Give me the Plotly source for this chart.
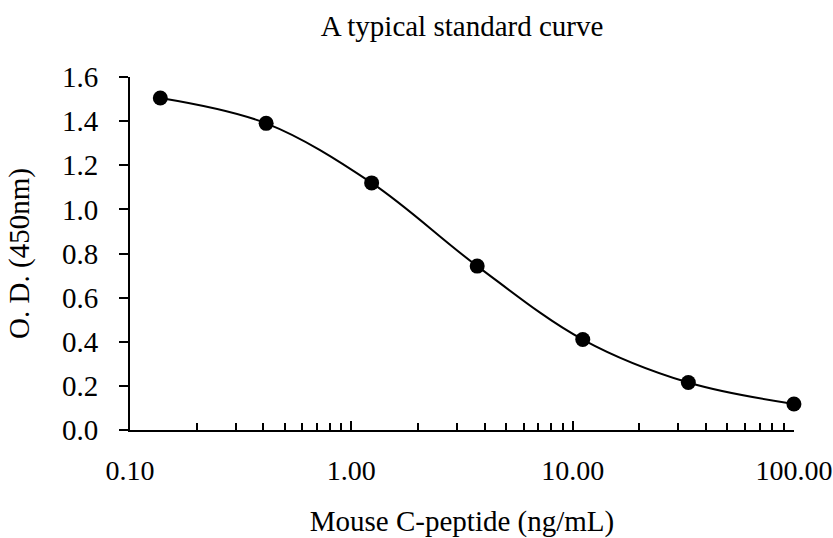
import plotly.graph_objects as go

concentration = [0.137, 0.412, 1.235, 3.704, 11.11, 33.33, 100.0]
od_450 = [1.505, 1.39, 1.12, 0.743, 0.41, 0.215, 0.118]

x_tickvals = [0.1, 1, 10, 100]
x_ticktext = ["0.10", "1.00", "10.00", "100.00"]
y_tickvals = [0, 0.2, 0.4, 0.6, 0.8, 1.0, 1.2, 1.4, 1.6]
y_ticktext = ["0.0", "0.2", "0.4", "0.6", "0.8", "1.0", "1.2", "1.4", "1.6"]

FONT = "Liberation Serif, Times New Roman, serif"
FS = 29

fig = go.Figure()
fig.add_trace(go.Scatter(
    x=concentration, y=od_450,
    mode="lines+markers",
    line=dict(color="black", width=2, shape="spline", smoothing=1.0),
    marker=dict(color="black", size=15),
    showlegend=False,
    cliponaxis=False,
))

fig.update_layout(
    width=833, height=538,
    margin=dict(l=130, r=39, t=77, b=108),
    paper_bgcolor="white", plot_bgcolor="white",
    font=dict(family=FONT, size=FS, color="black"),
    title=dict(text="A typical standard curve", x=0.5, xref="paper",
               y=1 - 16 / 538, yref="container", yanchor="top",
               font=dict(family=FONT, size=FS, color="black")),
    xaxis=dict(
        type="log", range=[-1.0003, 2.0003], automargin=False,
        tickvals=x_tickvals, ticktext=x_ticktext,
        ticks="inside", ticklen=9, tickwidth=2, tickcolor="black",
        minor=dict(ticks="inside", ticklen=7, tickwidth=2, tickcolor="black",
                   dtick="D1", showgrid=False),
        showline=True, linecolor="black", linewidth=2,
        showgrid=False, zeroline=False,
        ticklabelstandoff=14,
        ticklabeloverflow="allow",
        tickfont=dict(family=FONT, size=28),
        title=dict(text="Mouse C-peptide (ng/mL)", standoff=34,
                   font=dict(family=FONT, size=FS)),
    ),
    yaxis=dict(
        range=[0, 1.6], automargin=False,
        tickvals=y_tickvals, ticktext=y_ticktext,
        ticks="outside", ticklen=9, tickwidth=2, tickcolor="black",
        showline=True, linecolor="black", linewidth=2,
        showgrid=False, zeroline=False,
        ticklabelstandoff=15,
        tickfont=dict(family=FONT, size=FS),
        title=dict(text="O. D. (450nm)", standoff=24,
                   font=dict(family=FONT, size=FS)),
    ),
)

fig.write_html(
    "out.html",
    config={"displayModeBar": False},
    post_script="document.body.style.margin='0';document.body.style.padding='0';",
)
